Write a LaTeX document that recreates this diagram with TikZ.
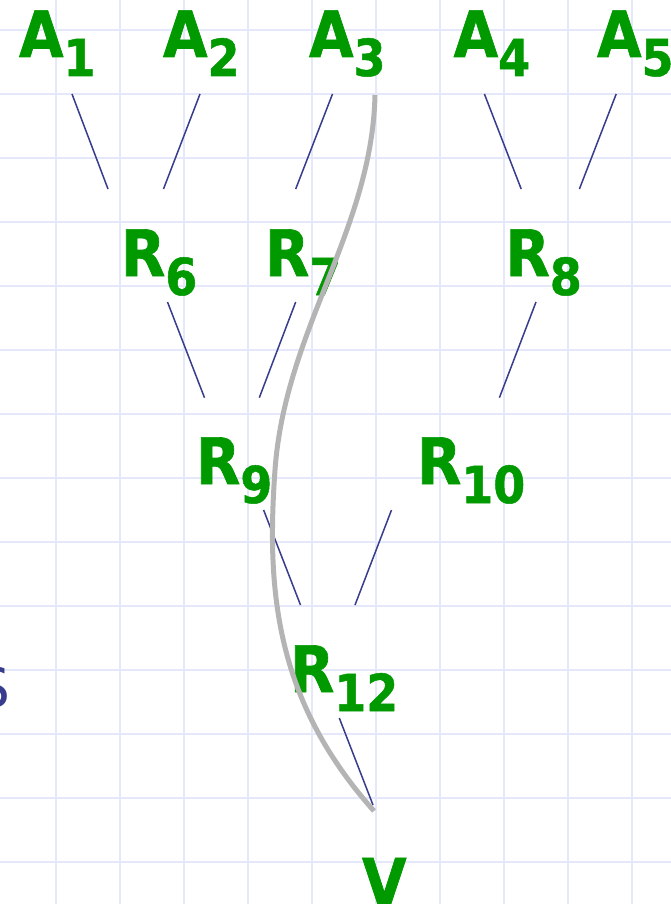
\documentclass[tikz,border=0pt]{standalone}
\usepackage{fontspec}
\newfontfamily\gfont[FakeStretch=0.9,FakeBold=1]{DejaVu Sans Bold}
\newfontfamily\sfont{DejaVu Sans}
\definecolor{gr}{RGB}{0,153,0}
\definecolor{gridc}{RGB}{228,232,250}
\definecolor{ln}{RGB}{55,60,140}
\definecolor{cv}{RGB}{180,180,180}
\newcommand\lbl[2]{#1\raisebox{-19pt}{\fontsize{51}{51}\selectfont #2}}
\begin{document}
\begin{tikzpicture}[x=1pt,y=-1pt,
  lab/.style={anchor=base west,inner sep=0pt,outer sep=0pt,text=gr,font=\gfont\fontsize{64}{64}\selectfont},
  conn/.style={draw=ln,line width=1.5pt},
  gridline/.style={draw=gridc,line width=1.6pt}]
\useasboundingbox (0,0) rectangle (671,904);
\fill[white] (0,0) rectangle (671,904);
% grid
\foreach \i in {0,...,9} {\draw[gridline] (55.8+64*\i,0) -- (55.8+64*\i,904);}
\foreach \j in {0,...,13} {\draw[gridline] (0,30+64*\j) -- (671,30+64*\j);}
% labels
\node[lab] (A1) at (19,57) {\lbl{A}{1}};
\node[lab] (A2) at (163,57) {\lbl{A}{2}};
\node[lab] (A3) at (309,57) {\lbl{A}{3}};
\node[lab] (A4) at (453.6,57) {\lbl{A}{4}};
\node[lab] (A5) at (597,57) {\lbl{A}{5}};
\node[lab] (R6) at (121,276) {\lbl{R}{6}};
\node[lab] (R7) at (265,276) {\lbl{R}{7}};
\node[lab] (R8) at (505.5,276) {\lbl{R}{8}};
\node[lab] (R9) at (196,484) {\lbl{R}{9}};
\node[lab] (R10) at (417,484) {\lbl{R}{10}};
\node[lab] (R12) at (290,692) {\lbl{R}{12}};
\node[lab] (V) at (362,904.5) {V};
\node[anchor=base east,inner sep=0pt,text=ln,font=\sfont\fontsize{55}{55}\selectfont] (S) at (10.5,707) {S};
% connector end points
\coordinate (c1a) at (72,94);    \coordinate (c1b) at (108,189);
\coordinate (c2a) at (200,94);   \coordinate (c2b) at (163.5,189);
\coordinate (c3a) at (332.5,94); \coordinate (c3b) at (295.7,189);
\coordinate (c4a) at (484.4,94); \coordinate (c4b) at (521.2,189);
\coordinate (c5a) at (616.2,94); \coordinate (c5b) at (579.4,189);
\coordinate (c6a) at (167.5,302); \coordinate (c6b) at (204.5,397.7);
\coordinate (c7a) at (295.7,302); \coordinate (c7b) at (259.3,397.7);
\coordinate (c8a) at (536,302);   \coordinate (c8b) at (499.4,397.7);
\coordinate (c9a) at (263.6,510); \coordinate (c9b) at (300.5,605);
\coordinate (c10a) at (391.5,510); \coordinate (c10b) at (355,605);
\coordinate (c12a) at (339.3,718); \coordinate (c12b) at (373,805);
\foreach \n in {1,2,3,4,5,6,7,8,9,10,12} {\draw[conn] (c\n a) -- (c\n b);}
% grey path
\coordinate (p0) at (375,95);
\coordinate (p1) at (275,470);
\coordinate (p2) at (374,811);
\draw[cv,line width=5pt] (p0) .. controls (372,230) and (285,330) .. (p1)
  .. controls (266.4,590) and (275,700) .. (p2);
\end{tikzpicture}
\end{document}
